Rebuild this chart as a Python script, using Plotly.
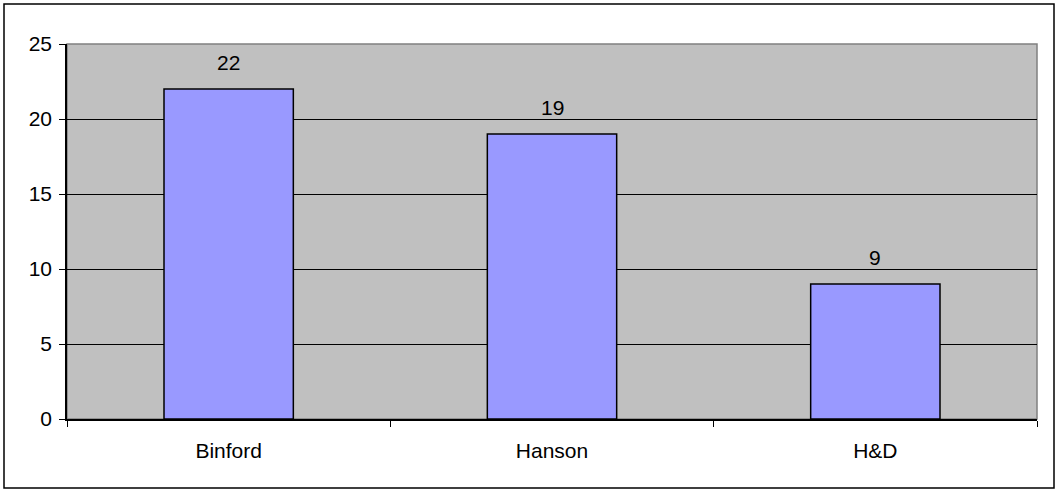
import plotly.graph_objects as go

categories = ["Binford", "Hanson", "H&D"]
values = [22, 19, 9]
y_ticks = [0, 5, 10, 15, 20, 25]

FONT = "Liberation Sans, Arial"

fig = go.Figure()
fig.add_trace(go.Bar(
    x=categories, y=values,
    marker=dict(color="#9999FF", line=dict(color="#000000", width=1.5)),
    width=0.4,
))

for c, v in zip(categories, values):
    fig.add_annotation(x=c, y=v, text=str(v), showarrow=False,
                       yanchor="middle", yshift=27,
                       font=dict(family=FONT, size=21, color="#000000"))

# plot area border (gray top/right)
fig.add_shape(type="rect", xref="paper", yref="paper", x0=0, x1=1, y0=0, y1=1,
              line=dict(color="#808080", width=1.5), layer="below")
# outer frame
fig.add_shape(type="rect", xref="paper", yref="paper",
              x0=-63/970, x1=1+17/970, y0=-69/375, y1=1+40/375,
              line=dict(color="#000000", width=1.5))

fig.update_layout(
    width=1057, height=492,
    margin=dict(l=67, r=20, t=44, b=73),
    paper_bgcolor="#FFFFFF",
    plot_bgcolor="#C0C0C0",
    showlegend=False,
    font=dict(family=FONT, size=21, color="#000000"),
    xaxis=dict(
        type="category", tickson="boundaries", ticks="outside", ticklen=6,
        tickcolor="#000000", showline=True, linecolor="#000000", linewidth=1.5,
        showgrid=False, ticklabelstandoff=12, tickfont=dict(size=21),
    ),
    yaxis=dict(
        range=[0, 25], tickvals=y_ticks, ticks="outside", ticklen=6,
        tickcolor="#000000", showline=True, linecolor="#000000", linewidth=1.5,
        showgrid=True, gridcolor="#000000", gridwidth=1, zeroline=False,
        ticklabelstandoff=3, tickfont=dict(size=21),
    ),
)

fig.write_html("out.html", config={"displayModeBar": False},
               post_script="document.body.style.margin='0';document.body.style.overflow='hidden';")
